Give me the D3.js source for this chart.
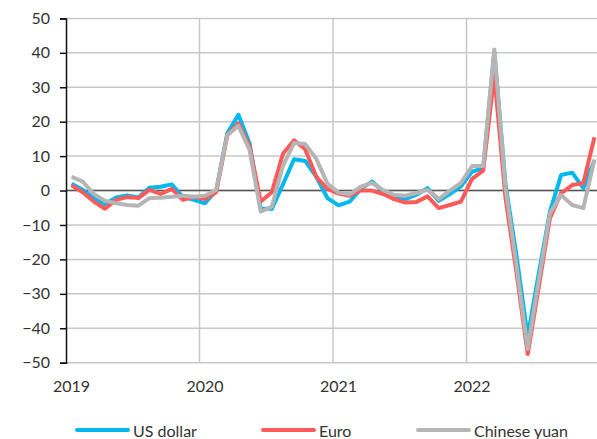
<!DOCTYPE html>
<html><head><meta charset="utf-8">
<script src="https://cdn.jsdelivr.net/npm/d3@7"></script>
<style>body{margin:0;background:#fff}svg{display:block}</style>
</head><body><svg id="c" width="597" height="439"></svg>
<script>
const years = ["2019","2020","2021","2022"];
const yTicks = [50,40,30,20,10,0,-10,-20,-30,-40,-50];
const usd = [2,0.2,-2.2,-4,-2,-1.4,-2,0.8,1.1,1.8,-1.8,-2.7,
  -3.7,0,16.6,22,13.7,-5.3,-5.3,1.8,9.1,8.6,4,-2.2,
  -4.3,-3.2,0.5,2.6,-0.3,-2.4,-2.5,-1.2,0.7,-3,-1,1.2,
  5.5,6.5,40.3,2,-19,-42.5,-24,-6.1,4.5,5.2,0.7,8.7];
const eur = [1.5,-0.5,-3.2,-5.3,-2.7,-1.9,-2.2,0.2,-1,0.5,-2.7,-1.8,
  -2.5,-0.5,16.1,19.5,12.8,-3.2,-0.5,10.7,14.6,12,4,0.5,
  -0.9,-1.5,0,0,-1,-2.5,-3.5,-3.3,-1.7,-5.1,-4.2,-3.2,
  3.4,5.8,33.6,-2,-24,-47.5,-28,-8,-0.8,1.6,2.1,15.5];
const cny = [4,2.6,-1,-3,-3.7,-4.2,-4.4,-2.2,-2.1,-1.8,-1.5,-1.8,
  -1.5,0.2,16.1,18.8,11.8,-6.1,-4.7,7.2,13.8,13.5,9.2,2,
  -0.6,-1.1,1.1,2.2,0.2,-1.3,-1.5,-0.7,0.2,-2.5,0,2.2,
  7.1,7.1,41,1,-22,-46,-26,-6.6,-1.3,-4.2,-5.1,9];
const seriesNames = ["US dollar","Euro","Chinese yuan"];
const seriesColors = ["#00B8EE","#FF5A5A","#B5B5B5"];
const seriesData = [usd, eur, cny];

const svg = d3.select("#c");
const font = "Lato, 'Open Sans', sans-serif";
const x = d3.scaleLinear().domain([-0.5, 47.5]).range([66, 600]);
const y = d3.scaleLinear().domain([-50, 50]).range([362.7, 18.4]);

// horizontal gridlines
svg.append("g").selectAll("line").data(yTicks).join("line")
  .attr("x1", 66).attr("x2", 597)
  .attr("y1", d => y(d)).attr("y2", d => y(d))
  .attr("stroke", "#c8c8c8").attr("stroke-width", 1.5);
// vertical gridlines at year boundaries
svg.append("g").selectAll("line").data([1,2,3]).join("line")
  .attr("x1", d => x(d*12-0.5)).attr("x2", d => x(d*12-0.5))
  .attr("y1", y(50)).attr("y2", y(-50))
  .attr("stroke", "#c8c8c8").attr("stroke-width", 1.5);
// zero line
svg.append("line").attr("x1", 66).attr("x2", 597)
  .attr("y1", y(0)).attr("y2", y(0))
  .attr("stroke", "#555").attr("stroke-width", 1.5);

// y axis
const yAxis = d3.axisLeft(y).tickValues(yTicks).tickSize(6).tickPadding(10);
const ga = svg.append("g").attr("transform", "translate(66,0)").call(yAxis);
ga.select(".domain").attr("stroke", "#111").attr("stroke-width", 1.5);
ga.selectAll(".tick line").attr("stroke", "#111").attr("stroke-width", 1.5);
ga.selectAll("text").attr("font-family", font).attr("font-size", 16).attr("fill", "#333");

// x labels
svg.append("g").selectAll("text").data(years).join("text")
  .attr("x", (d,i) => x(i*12)).attr("y", 392)
  .attr("text-anchor", "middle").attr("font-family", font)
  .attr("font-size", 16).attr("fill", "#333").text(d => d);

// lines
const line = d3.line().x((d,i) => x(i)).y(d => y(d));
seriesData.forEach((s, k) => {
  svg.append("path").datum(s).attr("d", line)
    .attr("fill", "none").attr("stroke", seriesColors[k])
    .attr("stroke-width", 4).attr("stroke-linejoin", "round");
});

// legend
const legX = [77, 263, 418];
seriesNames.forEach((n, k) => {
  svg.append("line").attr("x1", legX[k]).attr("x2", legX[k]+51)
    .attr("y1", 430).attr("y2", 430)
    .attr("stroke", seriesColors[k]).attr("stroke-width", 4).attr("stroke-linecap", "round");
  svg.append("text").attr("x", legX[k]+56).attr("y", 437)
    .attr("font-family", font).attr("font-size", 16).attr("fill", "#333").text(n);
});
</script></body></html>
